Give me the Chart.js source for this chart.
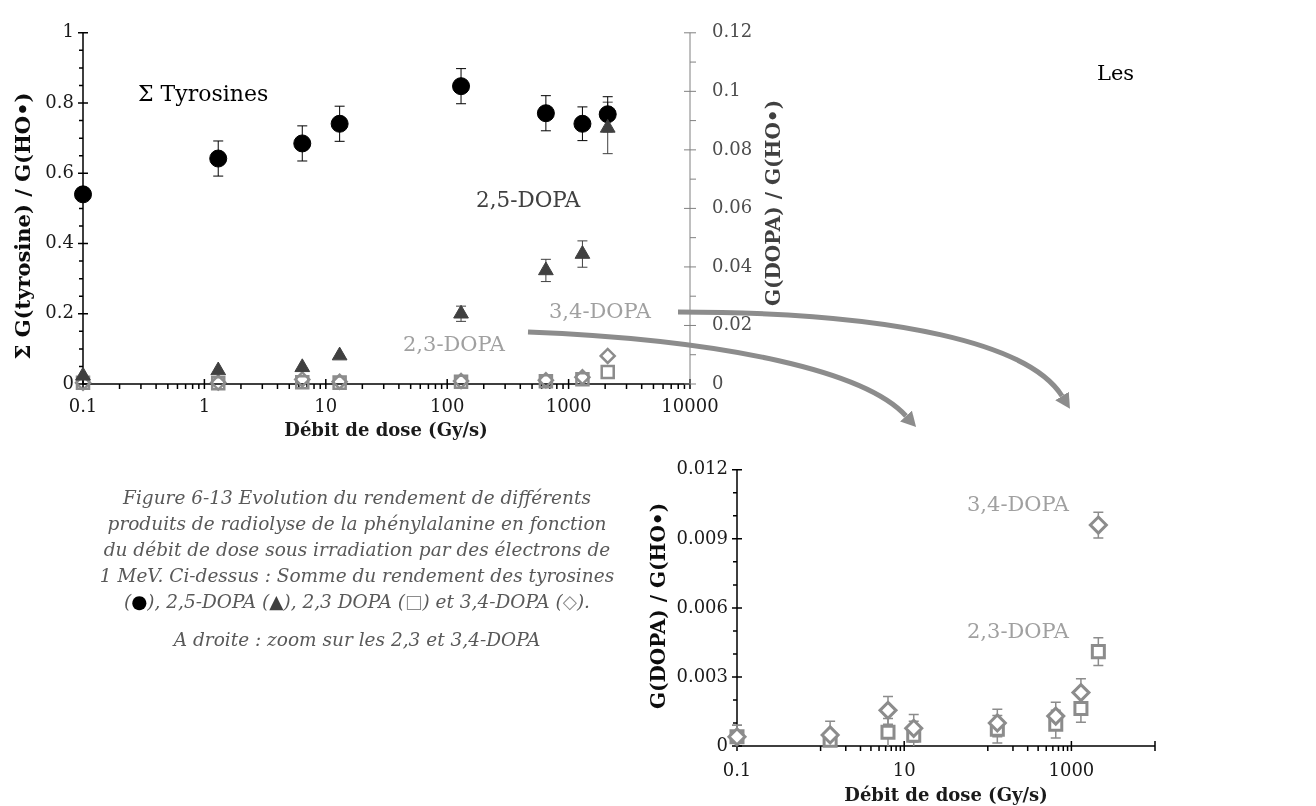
<!DOCTYPE html>
<html>
<head>
<meta charset="utf-8">
<script src="https://cdn.jsdelivr.net/npm/chart.js@4.4.1/dist/chart.umd.min.js"></script>
<style>
    html, body { margin: 0; padding: 0; background: #fff; }
    body { width: 1316px; height: 806px; position: relative; overflow: hidden; font-family: 'DejaVu Serif', serif; }
    canvas { position: absolute; }
    .lbl { position: absolute; white-space: nowrap; font-size: 21px; line-height: 1; transform: translateY(-50%); }
    .vt { position: absolute; white-space: nowrap; font-weight: bold; font-size: 20px; line-height: 1; transform: translate(-50%, -50%) rotate(-90deg); }
    .ht { position: absolute; white-space: nowrap; font-weight: bold; font-size: 18px; line-height: 1; transform: translate(-50%, -50%); color: #1a1a1a; }
    .caption { position: absolute; left: 57px; width: 600px; text-align: center; font-style: italic; font-size: 18.5px; line-height: 26px; color: #595959; }
    svg { position: absolute; left: 0; top: 0; }
</style>
</head>
<body>

<canvas id="mainChart" width="790" height="440" style="left:0;top:0"></canvas>
<canvas id="zoomChart" width="560" height="356" style="left:650px;top:450px"></canvas>

<svg width="1316" height="806">
    <defs>
        <marker id="head" markerUnits="userSpaceOnUse" markerWidth="18" markerHeight="18" refX="0" refY="8" orient="auto">
            <path d="M0,0 L15,8 L0,16 Z" fill="#8c8c8c"></path>
        </marker>
    </defs>
    <path d="M678,312 C900,312 1030,345 1062,396" stroke="#8c8c8c" stroke-width="5" fill="none" marker-end="url(#head)"></path>
    <path d="M528,332 C730,340 866,372 906,416" stroke="#8c8c8c" stroke-width="5" fill="none" marker-end="url(#head)"></path>
</svg>

<!-- axis titles -->
<div class="vt" style="left:22px;top:226px;font-size:21px;color:#0d0d0d">Σ G(tyrosine) / G(HO•)</div>
<div class="vt" style="left:773px;top:203px;color:#404040">G(DOPA) / G(HO•)</div>
<div class="ht" style="left:386px;top:430px">Débit de dose (Gy/s)</div>
<div class="vt" style="left:658px;top:606px;color:#0d0d0d">G(DOPA) / G(HO•)</div>
<div class="ht" style="left:946px;top:795px">Débit de dose (Gy/s)</div>

<!-- series labels -->
<div class="lbl" style="left:138px;top:94px;font-size:22px;color:#000">Σ Tyrosines</div>
<div class="lbl" style="left:476px;top:200px;font-size:21.5px;color:#404040">2,5-DOPA</div>
<div class="lbl" style="left:549px;top:311px;color:#a0a0a0">3,4-DOPA</div>
<div class="lbl" style="left:403px;top:344px;color:#a0a0a0">2,3-DOPA</div>
<div class="lbl" style="left:967px;top:504px;color:#a0a0a0">3,4-DOPA</div>
<div class="lbl" style="left:967px;top:631px;color:#a0a0a0">2,3-DOPA</div>
<div class="lbl" style="left:1097px;top:73px;color:#000">Les</div>

<div class="caption" style="top:485px">Figure 6-13 Evolution du rendement de différents<br>produits de radiolyse de la phénylalanine en fonction<br>du débit de dose sous irradiation par des électrons de<br>1 MeV. Ci-dessus : Somme du rendement des tyrosines<br>(<span style="color:#000;font-style:normal">●</span>), 2,5-DOPA (<span style="color:#404040;font-style:normal">▲</span>), 2,3 DOPA (<span style="color:#8c8c8c;font-style:normal">□</span>) et 3,4-DOPA (<span style="color:#8c8c8c;font-style:normal">◇</span>).</div>
<div class="caption" style="top:627px">A droite : zoom sur les 2,3 et 3,4-DOPA</div>

<script>
// dose rate (Gy/s), shared by all series
const doseRate = [0.1, 1.3, 6.4, 13, 130, 650, 1300, 2100];

// left axis: sum of tyrosines
const tyrosines = [0.54, 0.642, 0.685, 0.741, 0.848, 0.771, 0.741, 0.768];
const tyrosinesErr = [0, 0.05, 0.05, 0.05, 0.05, 0.05, 0.048, 0.05];

// right axis: DOPA yields
const dopa25 = [0.0028, 0.0046, 0.0057, 0.0097, 0.024, 0.0388, 0.0444, 0.0875];
const dopa25Err = [0, 0, 0, 0, 0.0026, 0.0038, 0.0045, 0.0088];
const dopa23 = [0.0004, 0.00025, 0.0006, 0.00047, 0.00073, 0.00095, 0.00163, 0.0041];
const dopa23Err = [0.0005, 0.0004, 0.0006, 0.0006, 0.0006, 0.0006, 0.0006, 0.0006];
const dopa34 = [0.0004, 0.00048, 0.00155, 0.00077, 0.001, 0.0013, 0.00232, 0.0096];
const dopa34Err = [0.0005, 0.0006, 0.0006, 0.0006, 0.0006, 0.0006, 0.0006, 0.00056];

// axis ticks
const mainXMajor = [0.1, 1, 10, 100, 1000, 10000];
const mainYTicks = [0, 0.2, 0.4, 0.6, 0.8, 1];
const mainY2Ticks = [0, 0.02, 0.04, 0.06, 0.08, 0.1, 0.12];
const zoomXLabels = [0.1, 10, 1000];
const zoomYTicks = [0, 0.003, 0.006, 0.009, 0.012];

const FONT = 'DejaVu Serif';
const points = (ys) => doseRate.map((x, i) => ({ x, y: ys[i] }));
const steps = (from, to, step) => {
    const out = [];
    for (let v = from; v <= to + step / 2; v += step) out.push(+v.toFixed(6));
    return out;
};
const subDecades = (decades) => decades.flatMap((d) => [2, 3, 4, 5, 6, 7, 8, 9].map((k) => k * d));
const fmt = (v) => String(+Number(v).toPrecision(4));
const sameVal = (a, b) => Math.abs(a - b) < 1e-9 * Math.max(1, Math.abs(b));

// draws axis lines + major/minor tick marks (Excel style: major crossing, minor outside)
const axisDecor = {
    id: 'axisDecor',
    beforeDatasetsDraw(chart, args, opts) {
        const ctx = chart.ctx;
        const area = chart.chartArea;
        (opts.axes || []).forEach((a) => {
            const s = chart.scales[a.id];
            ctx.save();
            ctx.strokeStyle = a.color;
            ctx.lineWidth = a.width;
            ctx.beginPath();
            if (s.isHorizontal()) {
                const y = area.bottom;
                ctx.moveTo(area.left, y);
                ctx.lineTo(area.right, y);
                a.major.forEach((v) => {
                    const x = s.getPixelForValue(v);
                    ctx.moveTo(x, y - a.majorLen);
                    ctx.lineTo(x, y + a.majorLen);
                });
                a.minor.forEach((v) => {
                    const x = s.getPixelForValue(v);
                    ctx.moveTo(x, y);
                    ctx.lineTo(x, y + a.minorLen);
                });
            } else {
                const left = s.position === 'left';
                const x = left ? area.left : area.right;
                const dir = left ? -1 : 1;
                ctx.moveTo(x, area.top);
                ctx.lineTo(x, area.bottom);
                a.major.forEach((v) => {
                    const y = s.getPixelForValue(v);
                    ctx.moveTo(x - a.majorLen, y);
                    ctx.lineTo(x + a.majorLen, y);
                });
                a.minor.forEach((v) => {
                    const y = s.getPixelForValue(v);
                    ctx.moveTo(x, y);
                    ctx.lineTo(x + dir * a.minorLen, y);
                });
            }
            ctx.stroke();
            ctx.restore();
        });
    },
};

// vertical error bars, drawn under the markers
const errorBars = {
    id: 'errorBars',
    beforeDatasetsDraw(chart) {
        const ctx = chart.ctx;
        chart.data.datasets.forEach((ds, i) => {
            if (!ds.errors) return;
            const meta = chart.getDatasetMeta(i);
            const ys = chart.scales[ds.yAxisID || 'y'];
            ctx.save();
            ctx.strokeStyle = ds.errorColor;
            ctx.lineWidth = ds.errorWidth || 1;
            ctx.beginPath();
            ds.data.forEach((p, j) => {
                const e = ds.errors[j];
                if (!e) return;
                const x = meta.data[j].x;
                const top = ys.getPixelForValue(p.y + e);
                const bot = ys.getPixelForValue(Math.max(p.y - e, ys.min));
                ctx.moveTo(x, top);
                ctx.lineTo(x, bot);
                ctx.moveTo(x - 5, top);
                ctx.lineTo(x + 5, top);
                if (p.y - e > ys.min) {
                    ctx.moveTo(x - 5, bot);
                    ctx.lineTo(x + 5, bot);
                }
            });
            ctx.stroke();
            ctx.restore();
        });
    },
};

const tickFont = { family: FONT, size: 18 };

new Chart(document.getElementById('mainChart').getContext('2d'), {
    type: 'scatter',
    data: {
        datasets: [
            {
                label: '2,5-DOPA',
                data: points(dopa25),
                yAxisID: 'y2',
                pointStyle: 'triangle',
                pointRadius: 8.5,
                backgroundColor: '#404040',
                borderColor: '#404040',
                borderWidth: 1,
                errors: dopa25Err,
                errorColor: '#404040',
                clip: false,
                order: 0,
            },
            {
                label: 'Σ Tyrosines',
                data: points(tyrosines),
                yAxisID: 'y',
                pointStyle: 'circle',
                pointRadius: 8.5,
                backgroundColor: '#000',
                borderColor: '#000',
                borderWidth: 1,
                errors: tyrosinesErr,
                errorColor: '#000',
                clip: false,
                order: 1,
            },
            {
                label: '2,3-DOPA',
                data: points(dopa23),
                yAxisID: 'y2',
                pointStyle: 'rect',
                pointRadius: 8.5,
                backgroundColor: 'rgba(255,255,255,0)',
                borderColor: '#8c8c8c',
                borderWidth: 2.5,
                clip: false,
                order: 2,
            },
            {
                label: '3,4-DOPA',
                data: points(dopa34),
                yAxisID: 'y2',
                pointStyle: 'rectRot',
                pointRadius: 7,
                backgroundColor: 'rgba(255,255,255,0)',
                borderColor: '#8c8c8c',
                borderWidth: 2.5,
                clip: false,
                order: 3,
            },
        ],
    },
    options: {
        responsive: false,
        animation: false,
        events: [],
        layout: { padding: { top: 22, right: 0, bottom: 0, left: 0 } },
        plugins: {
            legend: { display: false },
            tooltip: { enabled: false },
            axisDecor: {
                axes: [
                    { id: 'x', color: '#000', width: 1.5, major: mainXMajor, minor: subDecades(mainXMajor.slice(0, -1)), majorLen: 5, minorLen: 5 },
                    { id: 'y', color: '#000', width: 1.5, major: mainYTicks, minor: steps(0.05, 0.95, 0.05), majorLen: 5, minorLen: 4 },
                    { id: 'y2', color: '#808080', width: 1, major: mainY2Ticks, minor: steps(0.01, 0.11, 0.02), majorLen: 6, minorLen: 6 },
                ],
            },
        },
        scales: {
            x: {
                type: 'logarithmic',
                position: 'bottom',
                min: 0.1,
                max: 10000,
                grid: { display: false, drawTicks: false },
                border: { display: false },
                afterBuildTicks: (s) => { s.ticks = mainXMajor.map((v) => ({ value: v })); },
                ticks: { autoSkip: false, maxRotation: 0, padding: 13, color: '#1a1a1a', font: tickFont, callback: (v) => fmt(v) },
                afterFit: (s) => { s.height = 56; },
            },
            y: {
                position: 'left',
                min: 0,
                max: 1,
                grid: { display: false, drawTicks: false },
                border: { display: false },
                afterBuildTicks: (s) => { s.ticks = mainYTicks.map((v) => ({ value: v })); },
                ticks: { padding: 9, color: '#1a1a1a', font: tickFont, callback: (v) => fmt(v) },
                afterFit: (s) => { s.width = 83; },
            },
            y2: {
                position: 'right',
                min: 0,
                max: 0.12,
                grid: { display: false, drawTicks: false },
                border: { display: false },
                afterBuildTicks: (s) => { s.ticks = mainY2Ticks.map((v) => ({ value: v })); },
                ticks: { padding: 22, color: '#4d4d4d', font: tickFont, callback: (v) => fmt(v) },
                afterFit: (s) => { s.width = 100; },
            },
        },
    },
    plugins: [axisDecor, errorBars],
});

new Chart(document.getElementById('zoomChart').getContext('2d'), {
    type: 'scatter',
    data: {
        datasets: [
            {
                label: '3,4-DOPA',
                data: points(dopa34),
                pointStyle: 'rectRot',
                pointRadius: 8,
                backgroundColor: '#fff',
                borderColor: '#8c8c8c',
                borderWidth: 3,
                errors: dopa34Err,
                errorColor: '#8c8c8c',
                errorWidth: 1.5,
                clip: false,
                order: 0,
            },
            {
                label: '2,3-DOPA',
                data: points(dopa23),
                pointStyle: 'rect',
                pointRadius: 8.5,
                backgroundColor: '#fff',
                borderColor: '#8c8c8c',
                borderWidth: 3,
                errors: dopa23Err,
                errorColor: '#8c8c8c',
                errorWidth: 1.5,
                clip: false,
                order: 1,
            },
        ],
    },
    options: {
        responsive: false,
        animation: false,
        events: [],
        layout: { padding: { top: 17, right: 55, bottom: 0, left: 0 } },
        plugins: {
            legend: { display: false },
            tooltip: { enabled: false },
            axisDecor: {
                axes: [
                    { id: 'x', color: '#000', width: 1.5, major: [0.1, 10, 1000, 10000], minor: [1, 100].concat(subDecades([1, 100])), majorLen: 5, minorLen: 5 },
                    { id: 'y', color: '#000', width: 1.5, major: zoomYTicks, minor: steps(0.001, 0.011, 0.001).filter((v) => !zoomYTicks.some((t) => sameVal(t, v))), majorLen: 5, minorLen: 4 },
                ],
            },
        },
        scales: {
            x: {
                type: 'logarithmic',
                position: 'bottom',
                min: 0.1,
                max: 10000,
                grid: { display: false, drawTicks: false },
                border: { display: false },
                afterBuildTicks: (s) => { s.ticks = zoomXLabels.map((v) => ({ value: v })); },
                ticks: { autoSkip: false, maxRotation: 0, padding: 15, color: '#1a1a1a', font: tickFont, callback: (v) => fmt(v) },
                afterFit: (s) => { s.height = 60; },
            },
            y: {
                position: 'left',
                min: 0,
                max: 0.012,
                grid: { display: false, drawTicks: false },
                border: { display: false },
                afterBuildTicks: (s) => { s.ticks = zoomYTicks.map((v) => ({ value: v })); },
                ticks: { padding: 9, color: '#1a1a1a', font: tickFont, callback: (v) => fmt(v) },
                afterFit: (s) => { s.width = 87; },
            },
        },
    },
    plugins: [axisDecor, errorBars],
});
</script>
</body>
</html>
